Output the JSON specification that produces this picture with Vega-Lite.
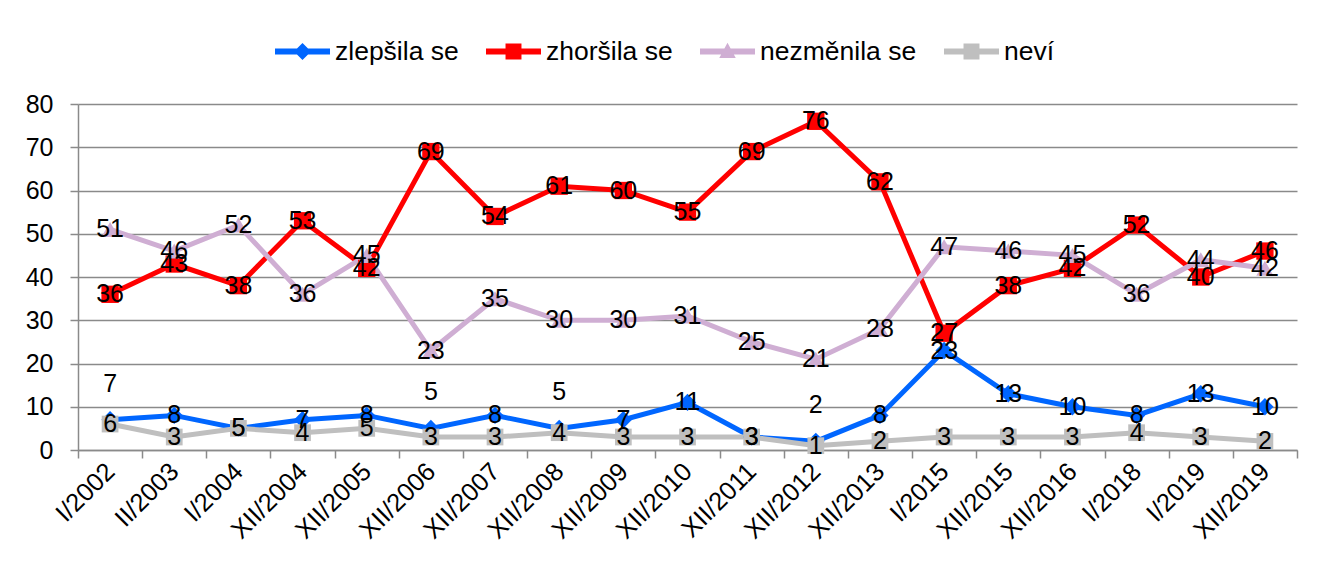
{
  "$schema": "https://vega.github.io/schema/vega-lite/v6.json",
  "width": 1219,
  "height": 346,
  "autosize": {"type": "none"},
  "padding": {"left": 78, "top": 104, "right": 20, "bottom": 115},
  "background": "white",
  "config": {
    "font": "Liberation Sans",
    "view": {"stroke": null},
    "axis": {"labelFont": "Liberation Sans", "labelColor": "#000000", "labelFontSize": 25}
  },
  "data": {
    "values": [
      {"obdobi": "I/2002", "serie": "zlepšila se", "hodnota": 7},
      {"obdobi": "II/2003", "serie": "zlepšila se", "hodnota": 8},
      {"obdobi": "I/2004", "serie": "zlepšila se", "hodnota": 5},
      {"obdobi": "XII/2004", "serie": "zlepšila se", "hodnota": 7},
      {"obdobi": "XII/2005", "serie": "zlepšila se", "hodnota": 8},
      {"obdobi": "XII/2006", "serie": "zlepšila se", "hodnota": 5},
      {"obdobi": "XII/2007", "serie": "zlepšila se", "hodnota": 8},
      {"obdobi": "XII/2008", "serie": "zlepšila se", "hodnota": 5},
      {"obdobi": "XII/2009", "serie": "zlepšila se", "hodnota": 7},
      {"obdobi": "XII/2010", "serie": "zlepšila se", "hodnota": 11},
      {"obdobi": "XII/2011", "serie": "zlepšila se", "hodnota": 3},
      {"obdobi": "XII/2012", "serie": "zlepšila se", "hodnota": 2},
      {"obdobi": "XII/2013", "serie": "zlepšila se", "hodnota": 8},
      {"obdobi": "I/2015", "serie": "zlepšila se", "hodnota": 23},
      {"obdobi": "XII/2015", "serie": "zlepšila se", "hodnota": 13},
      {"obdobi": "XII/2016", "serie": "zlepšila se", "hodnota": 10},
      {"obdobi": "I/2018", "serie": "zlepšila se", "hodnota": 8},
      {"obdobi": "I/2019", "serie": "zlepšila se", "hodnota": 13},
      {"obdobi": "XII/2019", "serie": "zlepšila se", "hodnota": 10},
      {"obdobi": "I/2002", "serie": "zhoršila se", "hodnota": 36},
      {"obdobi": "II/2003", "serie": "zhoršila se", "hodnota": 43},
      {"obdobi": "I/2004", "serie": "zhoršila se", "hodnota": 38},
      {"obdobi": "XII/2004", "serie": "zhoršila se", "hodnota": 53},
      {"obdobi": "XII/2005", "serie": "zhoršila se", "hodnota": 42},
      {"obdobi": "XII/2006", "serie": "zhoršila se", "hodnota": 69},
      {"obdobi": "XII/2007", "serie": "zhoršila se", "hodnota": 54},
      {"obdobi": "XII/2008", "serie": "zhoršila se", "hodnota": 61},
      {"obdobi": "XII/2009", "serie": "zhoršila se", "hodnota": 60},
      {"obdobi": "XII/2010", "serie": "zhoršila se", "hodnota": 55},
      {"obdobi": "XII/2011", "serie": "zhoršila se", "hodnota": 69},
      {"obdobi": "XII/2012", "serie": "zhoršila se", "hodnota": 76},
      {"obdobi": "XII/2013", "serie": "zhoršila se", "hodnota": 62},
      {"obdobi": "I/2015", "serie": "zhoršila se", "hodnota": 27},
      {"obdobi": "XII/2015", "serie": "zhoršila se", "hodnota": 38},
      {"obdobi": "XII/2016", "serie": "zhoršila se", "hodnota": 42},
      {"obdobi": "I/2018", "serie": "zhoršila se", "hodnota": 52},
      {"obdobi": "I/2019", "serie": "zhoršila se", "hodnota": 40},
      {"obdobi": "XII/2019", "serie": "zhoršila se", "hodnota": 46},
      {"obdobi": "I/2002", "serie": "nezměnila se", "hodnota": 51},
      {"obdobi": "II/2003", "serie": "nezměnila se", "hodnota": 46},
      {"obdobi": "I/2004", "serie": "nezměnila se", "hodnota": 52},
      {"obdobi": "XII/2004", "serie": "nezměnila se", "hodnota": 36},
      {"obdobi": "XII/2005", "serie": "nezměnila se", "hodnota": 45},
      {"obdobi": "XII/2006", "serie": "nezměnila se", "hodnota": 23},
      {"obdobi": "XII/2007", "serie": "nezměnila se", "hodnota": 35},
      {"obdobi": "XII/2008", "serie": "nezměnila se", "hodnota": 30},
      {"obdobi": "XII/2009", "serie": "nezměnila se", "hodnota": 30},
      {"obdobi": "XII/2010", "serie": "nezměnila se", "hodnota": 31},
      {"obdobi": "XII/2011", "serie": "nezměnila se", "hodnota": 25},
      {"obdobi": "XII/2012", "serie": "nezměnila se", "hodnota": 21},
      {"obdobi": "XII/2013", "serie": "nezměnila se", "hodnota": 28},
      {"obdobi": "I/2015", "serie": "nezměnila se", "hodnota": 47},
      {"obdobi": "XII/2015", "serie": "nezměnila se", "hodnota": 46},
      {"obdobi": "XII/2016", "serie": "nezměnila se", "hodnota": 45},
      {"obdobi": "I/2018", "serie": "nezměnila se", "hodnota": 36},
      {"obdobi": "I/2019", "serie": "nezměnila se", "hodnota": 44},
      {"obdobi": "XII/2019", "serie": "nezměnila se", "hodnota": 42},
      {"obdobi": "I/2002", "serie": "neví", "hodnota": 6},
      {"obdobi": "II/2003", "serie": "neví", "hodnota": 3},
      {"obdobi": "I/2004", "serie": "neví", "hodnota": 5},
      {"obdobi": "XII/2004", "serie": "neví", "hodnota": 4},
      {"obdobi": "XII/2005", "serie": "neví", "hodnota": 5},
      {"obdobi": "XII/2006", "serie": "neví", "hodnota": 3},
      {"obdobi": "XII/2007", "serie": "neví", "hodnota": 3},
      {"obdobi": "XII/2008", "serie": "neví", "hodnota": 4},
      {"obdobi": "XII/2009", "serie": "neví", "hodnota": 3},
      {"obdobi": "XII/2010", "serie": "neví", "hodnota": 3},
      {"obdobi": "XII/2011", "serie": "neví", "hodnota": 3},
      {"obdobi": "XII/2012", "serie": "neví", "hodnota": 1},
      {"obdobi": "XII/2013", "serie": "neví", "hodnota": 2},
      {"obdobi": "I/2015", "serie": "neví", "hodnota": 3},
      {"obdobi": "XII/2015", "serie": "neví", "hodnota": 3},
      {"obdobi": "XII/2016", "serie": "neví", "hodnota": 3},
      {"obdobi": "I/2018", "serie": "neví", "hodnota": 4},
      {"obdobi": "I/2019", "serie": "neví", "hodnota": 3},
      {"obdobi": "XII/2019", "serie": "neví", "hodnota": 2}
    ]
  },
  "encoding": {
    "x": {
      "field": "obdobi",
      "type": "ordinal",
      "sort": null,
      "title": null,
      "scale": {"type": "band", "paddingInner": 0, "paddingOuter": 0},
      "axis": {
        "labelAngle": -45,
        "labelAlign": "right",
        "labelBaseline": "middle",
        "labelPadding": 9,
        "labelFontSize": 25.5,
        "tickBand": "extent",
        "tickSize": 8,
        "tickColor": "#8a8a8a",
        "tickWidth": 1.5,
        "domainColor": "#8a8a8a",
        "domainWidth": 1.5,
        "grid": false
      }
    },
    "y": {
      "field": "hodnota",
      "type": "quantitative",
      "title": null,
      "scale": {"domain": [0, 80], "nice": false},
      "axis": {
        "values": [0, 10, 20, 30, 40, 50, 60, 70, 80],
        "tickSize": 8,
        "tickColor": "#8a8a8a",
        "tickWidth": 1.5,
        "domainColor": "#8a8a8a",
        "domainWidth": 1.5,
        "gridColor": "#8a8a8a",
        "gridWidth": 1.5,
        "labelPadding": 17
      }
    },
    "color": {
      "field": "serie",
      "type": "nominal",
      "sort": ["zlepšila se", "zhoršila se", "nezměnila se", "neví"],
      "scale": {
        "domain": ["zlepšila se", "zhoršila se", "nezměnila se", "neví"],
        "range": ["#0066ff", "#ff0000", "#cfaed3", "#bfbfbf"]
      },
      "legend": null
    }
  },
  "layer": [
    {
      "mark": {"type": "line", "strokeWidth": 5},
      "encoding": {
        "color": {
          "field": "serie",
          "type": "nominal",
          "sort": ["zlepšila se", "zhoršila se", "nezměnila se", "neví"],
          "legend": {
            "title": null,
            "orient": "none",
            "direction": "horizontal",
            "legendX": 197,
            "legendY": -80,
            "symbolSize": 3025,
            "labelFontSize": 26.5,
            "labelFont": "Liberation Sans",
            "labelColor": "#000000",
            "labelOffset": 5,
            "columnPadding": 27,
            "encode": {
              "symbols": {
                "update": {
                  "shape": {"signal": "datum.value === 'zlepšila se' ? 'M-1,-0.11H1V0.11H-1Z M0,-0.31L0.31,0L0,0.31L-0.31,0Z' : datum.value === 'nezměnila se' ? 'M-1,-0.11H1V0.11H-1Z M0,-0.32L0.3,0.24L-0.3,0.24Z' : 'M-1,-0.11H1V0.11H-1Z M-0.29,-0.29H0.29V0.29H-0.29Z'"},
                  "fill": {"scale": "color", "field": "value"},
                  "stroke": {"value": "transparent"},
                  "strokeWidth": {"value": 0},
                  "opacity": {"value": 1}
                }
              }
            }
          }
        },
        "detail": {"field": "serie"}
      }
    },
    {
      "transform": [{"filter": "datum.serie === 'zlepšila se'"}],
      "mark": {"type": "point", "filled": true, "size": 300, "opacity": 1, "shape": "diamond"}
    },
    {
      "transform": [{"filter": "datum.serie === 'zhoršila se'"}],
      "mark": {"type": "point", "filled": true, "size": 300, "opacity": 1, "shape": "square"}
    },
    {
      "transform": [{"filter": "datum.serie === 'nezměnila se'"}],
      "mark": {"type": "point", "filled": true, "size": 300, "opacity": 1, "shape": "triangle-up"}
    },
    {
      "transform": [{"filter": "datum.serie === 'neví'"}],
      "mark": {"type": "point", "filled": true, "size": 280, "opacity": 1, "shape": "square"}
    },
    {
      "transform": [
        {"filter": "!(datum.serie === 'zlepšila se' && indexof(['I/2002', 'XII/2006', 'XII/2008', 'XII/2012'], datum.obdobi) >= 0)"}
      ],
      "mark": {"type": "text", "fontSize": 25, "font": "Liberation Sans", "color": "#000000", "align": "center", "baseline": "middle"},
      "encoding": {"text": {"field": "hodnota", "type": "quantitative"}, "color": {"value": "#000000"}}
    },
    {
      "transform": [
        {"filter": "datum.serie === 'zlepšila se' && indexof(['I/2002', 'XII/2006', 'XII/2008', 'XII/2012'], datum.obdobi) >= 0"}
      ],
      "mark": {"type": "text", "fontSize": 25, "font": "Liberation Sans", "color": "#000000", "align": "center", "baseline": "middle", "dy": -36},
      "encoding": {"text": {"field": "hodnota", "type": "quantitative"}, "color": {"value": "#000000"}}
    }
  ]
}
